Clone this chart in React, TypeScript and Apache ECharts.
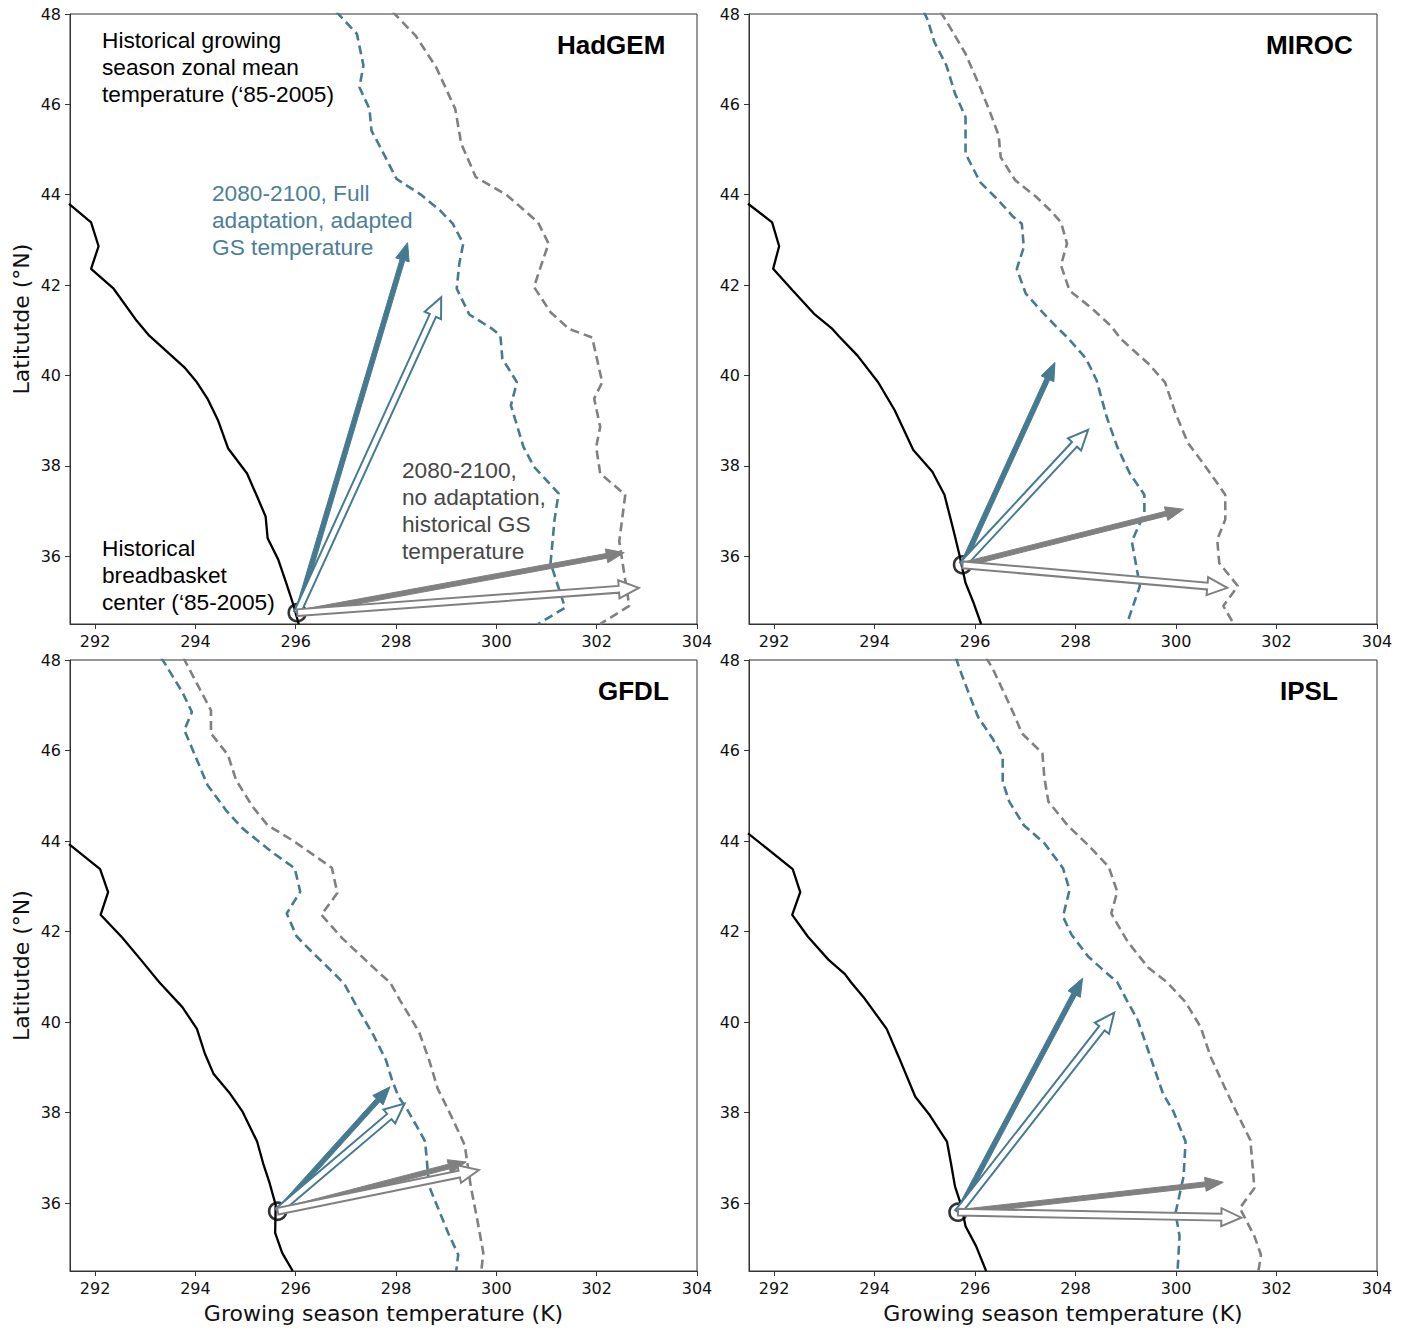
import React, { useEffect, useRef } from "react";
import * as echarts from "echarts";

const panelNames = ["HadGEM", "MIROC", "GFDL", "IPSL"];

// Historical growing season zonal mean temperature (solid black) [T (K), lat]
const hadgemHistorical = [[291.48,43.8],[291.92,43.39],[292.07,42.86],[291.92,42.36],[292.37,41.92],[292.83,41.21],[293.08,40.88],[293.45,40.51],[293.78,40.18],[294.03,39.85],[294.24,39.49],[294.45,39.01],[294.65,38.39],[295.03,37.83],[295.23,37.32],[295.40,36.88],[295.44,36.40],[295.65,35.93],[295.81,35.41],[295.94,34.97],[296.06,34.5]];
const mirocHistorical = [[291.48,43.8],[291.96,43.39],[292.10,42.86],[291.98,42.36],[292.37,41.88],[292.79,41.37],[293.16,41.03],[293.28,40.88],[293.66,40.44],[294.07,39.85],[294.40,39.23],[294.77,38.35],[295.15,37.87],[295.39,37.36],[295.56,36.62],[295.68,36.07],[295.81,35.41],[295.97,34.97],[296.12,34.5]];
const gfdlHistorical = [[291.48,43.93],[292.10,43.38],[292.26,42.87],[292.11,42.37],[292.54,41.87],[292.91,41.38],[293.28,40.88],[293.74,40.33],[294.03,39.85],[294.19,39.30],[294.36,38.86],[294.69,38.42],[294.94,38.02],[295.23,37.36],[295.35,36.88],[295.48,36.44],[295.6,35.96],[295.59,35.34],[295.73,34.90],[295.94,34.5]];
const ipslHistorical = [[291.48,44.17],[292.37,43.38],[292.52,42.87],[292.36,42.37],[292.67,41.89],[293.08,41.38],[293.41,41.06],[293.53,40.88],[293.78,40.55],[294.24,39.85],[294.48,39.23],[294.81,38.35],[295.1,37.94],[295.44,37.36],[295.52,36.88],[295.6,36.37],[295.73,35.93],[295.81,35.49],[296.02,35.05],[296.22,34.5]];

// 2080-2100 full adaptation, adapted GS temperature (blue dashed)
const hadgemAdapted = [[296.81,48.05],[297.22,47.56],[297.35,46.86],[297.27,46.38],[297.47,45.9],[297.51,45.42],[297.72,44.98],[298.01,44.35],[298.51,43.99],[298.88,43.65],[299.13,43.36],[299.34,42.92],[299.26,42.47],[299.21,41.92],[299.46,41.35],[299.92,41.03],[300.08,40.88],[300.12,40.37],[300.41,39.85],[300.29,39.34],[300.54,38.42],[300.75,37.98],[301.24,37.39],[301.16,36.81],[301.08,35.85],[301.37,34.86],[300.83,34.5]];
const mirocAdapted = [[294.98,48.05],[295.06,47.86],[295.19,47.38],[295.43,46.86],[295.6,46.24],[295.81,45.72],[295.81,44.91],[296.1,44.28],[296.47,43.87],[296.76,43.51],[296.93,43.36],[296.97,42.84],[296.83,42.36],[297.01,41.81],[297.34,41.40],[297.6,41.1],[297.84,40.84],[298.21,40.37],[298.42,39.89],[298.62,39.08],[298.83,38.42],[299.08,37.83],[299.37,37.36],[299.37,36.95],[299.12,36.33],[299.28,35.34],[299.02,34.5]];
const gfdlAdapted = [[293.32,48.05],[293.74,47.29],[293.93,46.85],[293.78,46.45],[293.99,45.9],[294.24,45.24],[294.61,44.68],[294.94,44.28],[295.52,43.76],[295.98,43.40],[296.09,42.88],[295.82,42.40],[296.02,41.89],[296.35,41.52],[296.76,41.08],[296.97,40.84],[297.26,40.26],[297.55,39.71],[297.8,39.16],[297.92,38.72],[298.05,38.35],[298.21,38.09],[298.46,37.61],[298.58,37.36],[298.66,36.37],[299.04,35.34],[299.24,34.86],[299.2,34.5]];
const ipslAdapted = [[295.62,48.05],[295.69,47.81],[295.89,47.22],[296.06,46.74],[296.35,46.26],[296.55,45.86],[296.55,45.31],[296.68,44.87],[296.97,44.35],[297.38,43.95],[297.75,43.40],[297.88,42.92],[297.75,42.33],[297.92,41.93],[298.25,41.45],[298.55,41.15],[298.83,40.88],[299.04,40.44],[299.24,40.04],[299.49,39.23],[299.74,38.42],[299.95,38.02],[300.19,37.36],[300.15,36.59],[299.99,35.78],[300.07,35.27],[300.03,34.5]];

// 2080-2100 no adaptation, historical GS temperature (gray dashed)
const hadgemNoAdapt = [[297.93,48.05],[298.39,47.52],[298.80,46.82],[299.18,45.9],[299.30,45.13],[299.59,44.39],[300.21,43.99],[300.83,43.39],[301.04,42.92],[300.75,41.96],[301.08,41.40],[301.45,41.03],[301.91,40.84],[302.11,39.85],[301.95,39.49],[302.07,38.86],[301.99,38.42],[302.07,37.83],[302.57,37.36],[302.45,36.33],[302.65,34.9],[302.07,34.5]];
const mirocNoAdapt = [[295.31,48.05],[295.44,47.82],[295.81,47.12],[296.1,46.38],[296.31,45.79],[296.47,45.31],[296.51,44.83],[296.8,44.32],[297.22,43.95],[297.5,43.65],[297.71,43.39],[297.83,42.92],[297.71,42.44],[297.88,41.88],[298.33,41.48],[298.7,41.1],[298.91,40.80],[299.45,40.26],[299.78,39.85],[299.99,39.16],[300.24,38.50],[300.49,38.13],[300.73,37.76],[300.98,37.36],[300.98,36.81],[300.82,36.37],[300.86,35.85],[301.23,35.34],[300.94,34.9],[301.15,34.5]];
const gfdlNoAdapt = [[293.76,48.05],[294.31,46.89],[294.31,46.38],[294.65,45.9],[294.81,45.35],[295.14,44.76],[295.44,44.35],[295.93,44.02],[296.72,43.41],[296.83,42.85],[296.51,42.37],[296.93,41.85],[297.42,41.34],[297.71,41.04],[297.88,40.88],[298.08,40.48],[298.46,39.78],[298.66,39.16],[298.83,38.53],[299.04,38.06],[299.28,37.50],[299.37,37.28],[299.49,36.37],[299.62,35.63],[299.74,34.90],[299.7,34.5]];
const ipslNoAdapt = [[296.22,48.05],[296.35,47.81],[296.6,47.22],[296.81,46.71],[296.93,46.38],[297.34,45.94],[297.38,45.39],[297.46,44.87],[297.84,44.35],[298.25,43.91],[298.66,43.43],[298.83,42.88],[298.71,42.40],[299.04,41.77],[299.45,41.2],[299.82,40.88],[300.19,40.44],[300.49,39.89],[300.69,39.23],[300.9,38.72],[301.15,38.13],[301.48,37.39],[301.56,36.33],[301.27,35.89],[301.56,35.27],[301.69,34.86],[301.64,34.5]];

// Historical breadbasket centers [T, lat]
const breadbasketCenters = [[296.03,34.75],[295.75,35.81],[295.64,35.82],[295.66,35.80]];

// Arrow tips per panel: [blue filled, blue hollow, gray filled, gray hollow]
const hadgemArrowTips = [[298.23,42.94],[298.90,41.73],[302.55,36.08],[302.84,35.30]];
const mirocArrowTips = [[297.59,40.29],[298.25,38.80],[300.15,37.04],[301.02,35.30]];
const gfdlArrowTips = [[297.88,38.57],[298.17,38.20],[299.40,36.91],[299.65,36.73]];
const ipslArrowTips = [[298.14,40.97],[298.77,40.21],[300.94,36.46],[301.30,35.68]];
const arrowKinds = ["blueFilled", "blueHollow", "grayFilled", "grayHollow"];

const historicalSets = [hadgemHistorical, mirocHistorical, gfdlHistorical, ipslHistorical];
const adaptedSets = [hadgemAdapted, mirocAdapted, gfdlAdapted, ipslAdapted];
const noAdaptSets = [hadgemNoAdapt, mirocNoAdapt, gfdlNoAdapt, ipslNoAdapt];
const arrowSets = [hadgemArrowTips, mirocArrowTips, gfdlArrowTips, ipslArrowTips];

const BLUE = "#467a90";
const GRAY = "#808080";
const TICK_FONT = "DejaVu Sans";
const ANN_FONT = "Liberation Sans, Arial, sans-serif";

const gridBoxes = [
  { left: 70, top: 14, width: 627, height: 610 },
  { left: 749, top: 14, width: 628, height: 610 },
  { left: 70, top: 660, width: 627, height: 611 },
  { left: 749, top: 660, width: 628, height: 611 },
];

function renderArrow(params: any, api: any) {
  const p0 = api.coord([api.value(0), api.value(1)]);
  const p1 = api.coord([api.value(2), api.value(3)]);
  const kind = arrowKinds[api.value(4)];
  const dx = p1[0] - p0[0];
  const dy = p1[1] - p0[1];
  const L = Math.sqrt(dx * dx + dy * dy) || 1;
  const ux = dx / L, uy = dy / L;
  const nx = -uy, ny = ux;
  const hollow = kind.indexOf("Hollow") >= 0;
  const color = kind.indexOf("blue") === 0 ? BLUE : GRAY;
  const w = hollow ? 3.4 : 2.4;
  const h = hollow ? 9 : 7;
  const hl = hollow ? 20 : 18;
  const bx = p1[0] - ux * hl, by = p1[1] - uy * hl;
  const pts = [
    [p0[0] + nx * w, p0[1] + ny * w],
    [bx + nx * w, by + ny * w],
    [bx + nx * h, by + ny * h],
    [p1[0], p1[1]],
    [bx - nx * h, by - ny * h],
    [bx - nx * w, by - ny * w],
    [p0[0] - nx * w, p0[1] - ny * w],
  ];
  return {
    type: "polygon",
    shape: { points: pts },
    style: {
      fill: hollow ? "#ffffff" : color,
      stroke: color,
      lineWidth: hollow ? 2 : 1,
      lineJoin: "miter",
    },
  };
}

export default function App() {
  const ref = useRef<HTMLDivElement>(null);
  useEffect(() => {
    if (!ref.current) return;
    const chart = echarts.init(ref.current, null, { renderer: "svg" });
    const grids: any[] = [];
    const xAxes: any[] = [];
    const yAxes: any[] = [];
    const series: any[] = [];
    for (let i = 0; i < 4; i++) {
      const g = gridBoxes[i];
      grids.push({
        left: g.left, top: g.top, width: g.width, height: g.height,
        show: true, borderColor: "#333", borderWidth: 1, backgroundColor: "#fff",
      });
      xAxes.push({
        type: "value", gridIndex: i, min: 291.5, max: 304, minInterval: 2, maxInterval: 2,
        splitLine: { show: false },
        axisLine: { show: true, onZero: false, lineStyle: { color: "#333", width: 1 } },
        axisTick: { show: true, length: 5, inside: false, lineStyle: { color: "#333" } },
        axisLabel: { showMinLabel: false, color: "#111", fontFamily: TICK_FONT, fontSize: 16, margin: 9 },
        name: i >= 2 ? "Growing season temperature (K)" : "",
        nameLocation: "middle", nameGap: 31,
        nameTextStyle: { fontFamily: TICK_FONT, fontSize: 22, color: "#111" },
      });
      yAxes.push({
        type: "value", gridIndex: i, min: 34.5, max: 48, minInterval: 2, maxInterval: 2,
        splitLine: { show: false },
        axisLine: { show: true, onZero: false, lineStyle: { color: "#333", width: 1 } },
        axisTick: { show: true, length: 5, inside: false, lineStyle: { color: "#333" } },
        axisLabel: { showMinLabel: false, color: "#111", fontFamily: TICK_FONT, fontSize: 16, margin: 9 },
        name: i % 2 === 0 ? "Latitutde (°N)" : "",
        nameLocation: "middle", nameGap: 38, nameRotate: 90,
        nameTextStyle: { fontFamily: TICK_FONT, fontSize: 22, color: "#111" },
      });
      series.push({
        type: "line", xAxisIndex: i, yAxisIndex: i, data: noAdaptSets[i], showSymbol: false, clip: true,
        lineStyle: { color: GRAY, width: 2.6, type: [9, 5] }, z: 2,
      });
      series.push({
        type: "line", xAxisIndex: i, yAxisIndex: i, data: adaptedSets[i], showSymbol: false, clip: true,
        lineStyle: { color: BLUE, width: 2.6, type: [9, 5] }, z: 2,
      });
      series.push({
        type: "line", xAxisIndex: i, yAxisIndex: i, data: historicalSets[i], showSymbol: false, clip: true,
        lineStyle: { color: "#000", width: 2.3 }, z: 3,
      });
      const c = breadbasketCenters[i];
      series.push({
        type: "scatter", xAxisIndex: i, yAxisIndex: i, data: [c], symbol: "circle", symbolSize: 17,
        itemStyle: { color: "rgba(0,0,0,0)", borderColor: "#000", borderWidth: 2.6 }, z: 4,
      });
      series.push({
        type: "custom", xAxisIndex: i, yAxisIndex: i, z: 5, clip: false,
        renderItem: renderArrow,
        data: arrowSets[i].map((t, k) => [c[0], c[1], t[0], t[1], k]),
      });
    }

    const panelLabelPos = [[557, 32], [1266, 32], [598, 678], [1280, 678]];
    const graphic: any[] = panelNames.map((n, i) => ({
      type: "text", left: panelLabelPos[i][0], top: panelLabelPos[i][1], z: 100,
      style: { text: n, font: "bold 26px " + ANN_FONT, fill: "#000" },
    }));
    const annotations = [
      { x: 102, y: 26, text: "Historical growing\nseason zonal mean\ntemperature (\u201885-2005)", color: "#000" },
      { x: 212, y: 179, text: "2080-2100, Full\nadaptation, adapted\nGS temperature", color: "#4c8098" },
      { x: 402, y: 456, text: "2080-2100,\nno adaptation,\nhistorical GS\ntemperature", color: "#474747" },
      { x: 102, y: 534, text: "Historical\nbreadbasket\ncenter (\u201885-2005)", color: "#000" },
    ];
    annotations.forEach((a) => {
      graphic.push({
        type: "text", left: a.x, top: a.y, z: 100,
        style: { text: a.text, font: "22.7px " + ANN_FONT, fill: a.color, lineHeight: 27 },
      });
    });

    chart.setOption({
      animation: false,
      backgroundColor: "#fff",
      grid: grids,
      xAxis: xAxes,
      yAxis: yAxes,
      series,
      graphic,
    });
    return () => chart.dispose();
  }, []);
  return (
    <div
      ref={ref}
      style={{ position: "absolute", left: 0, top: 0, width: 1409, height: 1330, background: "#fff" }}
    />
  );
}
